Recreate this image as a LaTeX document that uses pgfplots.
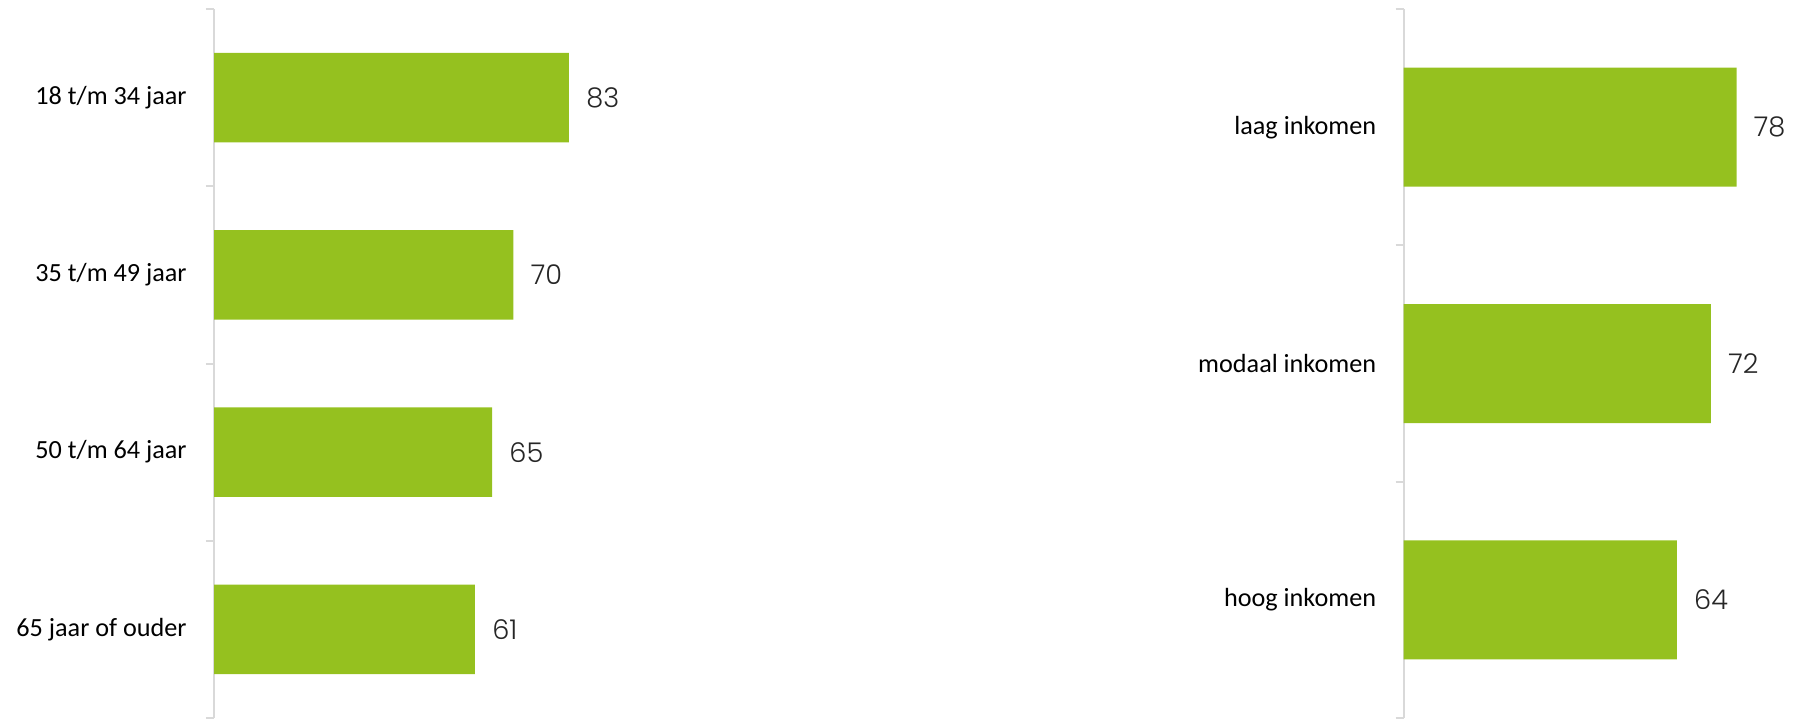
\documentclass[border=0pt]{standalone}
\usepackage{pgfplots}
\pgfplotsset{compat=1.18}
\usepackage{fontspec}
\setmainfont{Carlito}
\newfontfamily\numfont{Poppins Light}
\definecolor{barcol}{RGB}{149,193,31}
\definecolor{axgray}{RGB}{217,217,217}
\definecolor{numcol}{RGB}{38,38,38}
\pgfplotsset{
  mybars/.style={
    xbar, scale only axis, clip=false,
    y dir=reverse, xmin=0,
    axis x line=none, axis y line*=left,
    axis line style={-, draw=axgray, line width=1pt},
    major tick length=0pt,
    yticklabel style={font=\fontsize{13.1}{15.7}\selectfont, inner sep=0pt, xshift=-13.5pt, text=black},
    extra y tick style={major tick length=4pt, tick align=outside, tick style={draw=axgray, line width=1pt}},
    extra y tick labels={},
    nodes near coords, point meta=explicit symbolic,
    nodes near coords style={anchor=west, xshift=8.5pt, inner sep=0pt, text=numcol, font=\numfont\fontsize{13.6}{16}\selectfont},
  }
}
\begin{document}
\begin{tikzpicture}
\useasboundingbox (0pt,0pt) rectangle (897.5pt,359pt);
\begin{axis}[mybars, at={(107pt,0pt)}, anchor=south west,
  width=213.85pt, height=354.5pt, xmax=100,
  ymin=0.5, ymax=4.5, bar width=44.65pt,
  ytick={1,2,3,4},
  yticklabels={18 t/m 34 jaar, 35 t/m 49 jaar, 50 t/m 64 jaar, 65 jaar of ouder},
  extra y ticks={0.5,1.5,2.5,3.5,4.5}]
\addplot[fill=barcol, draw=none] coordinates {(83,1) [83] (70,2) [70] (65,3) [65] (61,4) [61]};
\end{axis}
\begin{axis}[mybars, at={(701.75pt,0pt)}, anchor=south west,
  width=192.15pt, height=354.5pt, xmax=90,
  ymin=0.5, ymax=3.5, bar width=59.5pt,
  ytick={1,2,3},
  yticklabels={laag inkomen, modaal inkomen, hoog inkomen},
  extra y ticks={0.5,1.5,2.5,3.5}]
\addplot[fill=barcol, draw=none] coordinates {(78,1) [78] (72,2) [72] (64,3) [64]};
\end{axis}
\end{tikzpicture}
\end{document}
